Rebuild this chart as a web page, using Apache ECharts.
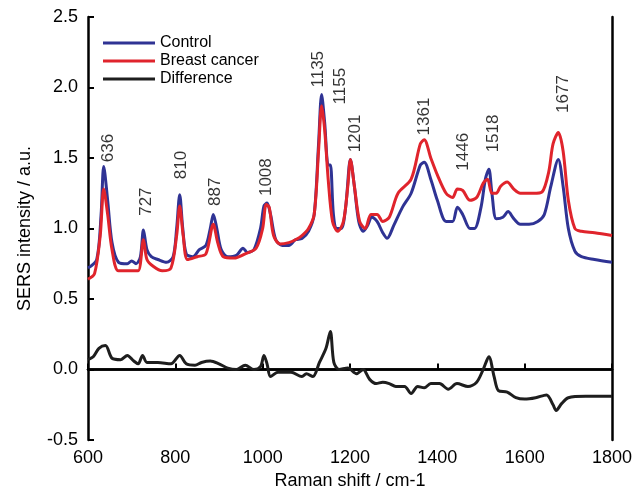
<!DOCTYPE html>
<html>
<head>
<meta charset="utf-8">
<script src="https://cdn.jsdelivr.net/npm/echarts@6/dist/echarts.min.js"></script>
<style>html,body{margin:0;padding:0;background:#fff}#main{width:640px;height:503px}</style>
</head>
<body>
<div id="main"></div>
<script>
// spectra: [raman shift, intensity]
const control = [[600,0.72],[620,0.78],[630,1.1],[636,1.44],[645,1.2],[655,0.9],[670,0.76],[690,0.75],[700,0.77],[710,0.75],[720,0.8],[727,0.99],[735,0.85],[745,0.8],[760,0.78],[780,0.76],[795,0.8],[803,1.0],[810,1.24],[817,1.0],[825,0.82],[840,0.8],[855,0.85],[870,0.88],[880,1.0],[887,1.1],[895,1.0],[905,0.85],[920,0.8],[940,0.81],[955,0.86],[965,0.83],[980,0.85],[995,1.0],[1003,1.16],[1010,1.18],[1018,1.1],[1030,0.92],[1045,0.88],[1060,0.88],[1075,0.92],[1090,0.93],[1105,0.98],[1118,1.1],[1128,1.6],[1135,1.95],[1142,1.75],[1150,1.45],[1155,1.45],[1162,1.1],[1170,1.0],[1180,1.0],[1190,1.15],[1201,1.49],[1210,1.3],[1220,1.05],[1230,0.98],[1240,1.02],[1250,1.08],[1262,1.05],[1275,0.97],[1285,0.93],[1300,1.02],[1320,1.15],[1340,1.25],[1361,1.45],[1370,1.47],[1385,1.35],[1400,1.2],[1420,1.05],[1435,1.05],[1446,1.15],[1458,1.1],[1475,1.0],[1485,1.0],[1500,1.15],[1510,1.35],[1518,1.42],[1525,1.25],[1535,1.07],[1550,1.08],[1562,1.12],[1575,1.07],[1590,1.03],[1610,1.03],[1630,1.05],[1645,1.1],[1660,1.3],[1677,1.49],[1688,1.3],[1700,1.0],[1715,0.84],[1730,0.8],[1760,0.78],[1800,0.76]];
const cancer = [[600,0.64],[615,0.68],[628,0.95],[636,1.28],[645,1.1],[655,0.85],[670,0.7],[700,0.7],[715,0.7],[727,0.92],[735,0.78],[750,0.73],[770,0.7],[790,0.72],[803,0.95],[810,1.16],[818,0.95],[828,0.78],[850,0.8],[870,0.82],[887,1.03],[897,0.9],[910,0.8],[935,0.79],[960,0.82],[985,0.86],[1000,1.0],[1008,1.17],[1015,1.15],[1025,0.95],[1040,0.89],[1060,0.9],[1075,0.92],[1090,0.95],[1105,1.0],[1118,1.1],[1128,1.55],[1135,1.87],[1142,1.7],[1150,1.35],[1160,1.05],[1172,0.98],[1185,1.05],[1195,1.3],[1201,1.49],[1210,1.3],[1222,1.05],[1235,1.0],[1248,1.1],[1262,1.1],[1275,1.05],[1290,1.08],[1310,1.25],[1340,1.35],[1361,1.6],[1370,1.63],[1385,1.5],[1400,1.38],[1420,1.25],[1435,1.22],[1446,1.28],[1458,1.27],[1475,1.2],[1490,1.22],[1505,1.32],[1515,1.35],[1525,1.25],[1535,1.25],[1545,1.3],[1560,1.33],[1575,1.28],[1590,1.25],[1620,1.25],[1640,1.26],[1655,1.4],[1665,1.6],[1677,1.68],[1688,1.55],[1700,1.2],[1715,1.0],[1730,0.98],[1760,0.97],[1800,0.95]];
const difference = [[600,0.07],[612,0.09],[625,0.15],[640,0.17],[655,0.08],[675,0.07],[690,0.1],[705,0.06],[715,0.04],[725,0.1],[735,0.05],[760,0.05],[790,0.04],[810,0.1],[825,0.04],[845,0.03],[860,0.05],[880,0.06],[900,0.04],[920,0.01],[940,0.0],[960,0.03],[980,0.0],[995,0.02],[1003,0.1],[1010,0.04],[1018,-0.05],[1035,-0.02],[1065,-0.02],[1090,-0.05],[1100,-0.03],[1115,-0.05],[1130,0.05],[1145,0.15],[1155,0.27],[1163,0.05],[1175,0.0],[1195,0.01],[1215,-0.03],[1230,0.0],[1245,-0.07],[1260,-0.1],[1275,-0.09],[1290,-0.1],[1305,-0.12],[1325,-0.12],[1340,-0.17],[1355,-0.12],[1370,-0.13],[1385,-0.1],[1405,-0.1],[1425,-0.14],[1445,-0.1],[1470,-0.12],[1490,-0.09],[1505,0.0],[1518,0.09],[1530,-0.05],[1540,-0.15],[1560,-0.16],[1580,-0.2],[1600,-0.21],[1625,-0.2],[1650,-0.18],[1665,-0.25],[1672,-0.29],[1685,-0.24],[1700,-0.2],[1740,-0.19],[1800,-0.19]];
// peak labels: [label text, x where it stands, height of its base]
const peaks = [['636',646,1.47],['727',733,1.09],['810',813,1.35],['887',891,1.16],['1008',1008,1.23],['1135',1128,2.0],['1155',1178,1.88],['1201',1213,1.54],['1361',1371,1.66],['1446',1460,1.41],['1518',1529,1.54],['1677',1688,1.82]];

const chart = echarts.init(document.getElementById('main'));
const font = 'Liberation Sans, Arial, sans-serif';
const line = (name, data, color) => ({
    name, type: 'line', data, smooth: 0.3, symbol: 'none',
    lineStyle: {color, width: 3}, itemStyle: {color}
});
const frame = {show: true, lineStyle: {color: '#000', width: 2.5}};
chart.setOption({
    animation: false,
    textStyle: {fontFamily: font},
    grid: {left: 88, right: 28, top: 17, bottom: 63},
    legend: {
        left: 98, top: 30, orient: 'vertical', itemGap: 2,
        itemWidth: 52, itemHeight: 3, icon: 'rect',
        textStyle: {fontSize: 16, color: '#000', fontFamily: font},
        data: ['Control', 'Breast cancer', 'Difference']
    },
    xAxis: [{
        type: 'value', min: 600, max: 1800, interval: 200,
        name: 'Raman shift / cm-1', nameLocation: 'middle', nameGap: 31,
        nameTextStyle: {fontSize: 18, color: '#000'},
        axisLine: frame,
        axisTick: {inside: true, length: 6, lineStyle: {width: 2}},
        axisLabel: {fontSize: 18, color: '#000', margin: 9, formatter: v => String(v)},
        splitLine: {show: false}
    }, {
        type: 'value', position: 'top', min: 600, max: 1800,
        axisLine: frame, axisTick: {show: false}, axisLabel: {show: false}, splitLine: {show: false}
    }],
    yAxis: [{
        type: 'value', min: -0.5, max: 2.5, interval: 0.5,
        name: 'SERS intensity / a.u.', nameLocation: 'middle', nameGap: 54,
        nameTextStyle: {fontSize: 18, color: '#000'},
        axisLine: frame,
        axisTick: {show: true, inside: true, length: 6, lineStyle: {width: 2}},
        axisLabel: {fontSize: 18, color: '#000', formatter: v => v.toFixed(1), margin: 10},
        splitLine: {show: false}
    }, {
        type: 'value', position: 'right', min: -0.5, max: 2.5,
        axisLine: frame, axisTick: {show: false}, axisLabel: {show: false}, splitLine: {show: false}
    }],
    series: [
        line('Control', control, '#2f3394'),
        line('Breast cancer', cancer, '#e0242c'),
        line('Difference', difference, '#1e1e1e'),
        {
            type: 'scatter', symbolSize: 0, silent: true,
            data: peaks.map(p => ({name: p[0], value: [p[1], p[2]]})),
            label: {
                show: true, position: 'top', distance: 0, rotate: 90,
                align: 'left', verticalAlign: 'middle',
                fontSize: 17, color: '#000',
                formatter: p => p.name
            }
        }
    ]
});
</script>
</body>
</html>
